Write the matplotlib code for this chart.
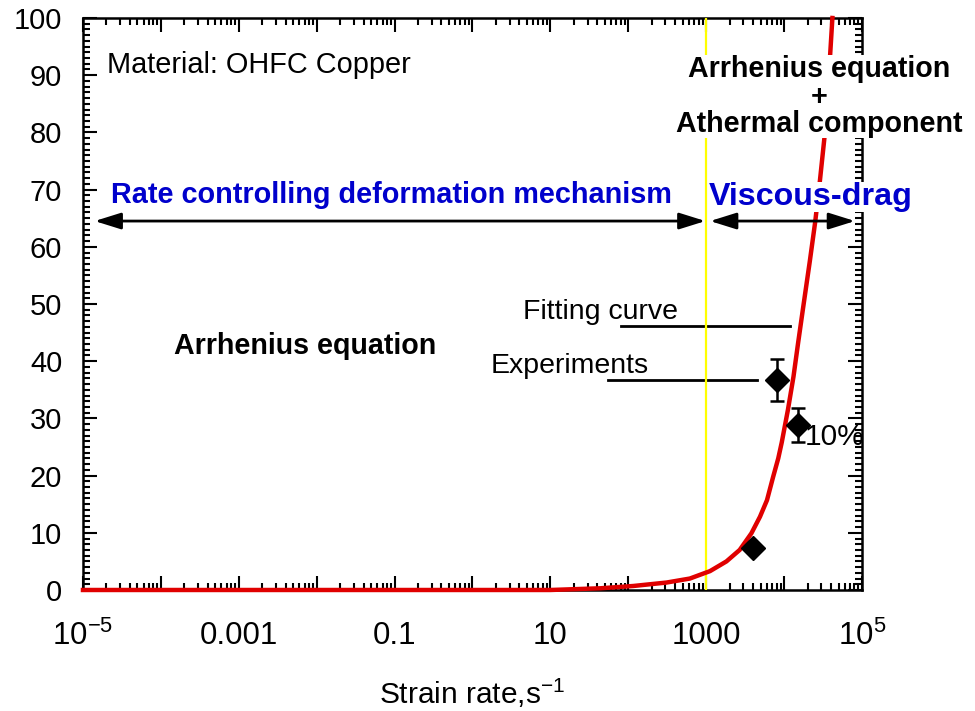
import matplotlib
matplotlib.use("Agg")
import matplotlib.pyplot as plt
from matplotlib.ticker import FixedLocator, FixedFormatter, LogLocator, MultipleLocator, NullFormatter

plt.rcParams["font.family"] = ["Liberation Sans", "DejaVu Sans"]
plt.rcParams["mathtext.fontset"] = "custom"
plt.rcParams["mathtext.rm"] = "Liberation Sans"
plt.rcParams["mathtext.it"] = "Liberation Sans:italic"

# Fitting curve (strain rate s^-1, stress)
fit_rate = [1e-5, 10, 44, 116, 309, 617, 1120, 1820, 2690, 3800, 4900, 6030,
            7240, 8410, 9330, 11200, 13200, 15100, 17400, 21400, 25100, 28800,
            33500, 37200, 41700]
fit_stress = [0, 0, 0.3, 0.7, 1.3, 2.0, 3.3, 5.0, 7.0, 9.9, 12.8, 15.7,
              19.8, 23.0, 25.8, 31.5, 37.3, 43.1, 49.0, 57.5, 64.4, 71.5,
              80.0, 89.0, 100]

# Experimental points
exp_rate = [3950, 8040, 14900]
exp_stress = [7.3, 36.7, 28.8]
exp_err = [0, 3.6, 3.0]

# Legend sample lines
legend_fit_x = [80, 12000]
legend_fit_y = [46.2, 46.2]
legend_exp_x = [55, 4450]
legend_exp_y = [36.7, 36.7]

x_major = [10.0 ** k for k in range(-5, 6)]
x_labels = ["$\\mathregular{10^{-5}}$", "", "0.001", "", "0.1", "", "10", "", "1000", "",
            "$\\mathregular{10^{5}}$"]
y_ticks = list(range(0, 101, 10))

transition_rate = 1000
arrow_y = 64.5

fig = plt.figure(figsize=(9.75, 7.11), dpi=100)
ax = fig.add_axes([0.0851, 0.1702, 0.799, 0.8045])

ax.set_xscale("log")
ax.set_xlim(1e-5, 1e5)
ax.set_ylim(0, 100)

# transition line
ax.axvline(transition_rate, color="#ffff00", lw=1.6, zorder=2.6)

ax.plot(fit_rate, fit_stress, color="#e00000", lw=3.2, zorder=3, clip_on=False)
ax.errorbar(exp_rate, exp_stress, yerr=exp_err, fmt="D", color="black", ms=12,
            elinewidth=1.8, capsize=5, capthick=1.8, zorder=4)

ax.plot(legend_fit_x, legend_fit_y, color="black", lw=2, zorder=2)
ax.plot(legend_exp_x, legend_exp_y, color="black", lw=2, zorder=2)

# double arrows
arrow_kw = dict(arrowstyle="<|-|>,head_length=0.8,head_width=0.25", color="black",
                lw=2, shrinkA=0, shrinkB=0, mutation_scale=20)
ax.annotate("", xy=(10 ** -4.85, arrow_y), xytext=(10 ** 2.99, arrow_y),
            arrowprops=arrow_kw, zorder=5)
ax.annotate("", xy=(10 ** 3.05, arrow_y), xytext=(10 ** 4.91, arrow_y),
            arrowprops=arrow_kw, zorder=5)

blue = "#0000cc"
white_box = dict(facecolor="white", edgecolor="none", pad=0)
ax.text(10 ** -4.69, 90.4, "Material: OHFC Copper", fontsize=20.8, va="baseline", ha="left")
ax.text(10 ** -4.64, 67.6, "Rate controlling deformation mechanism", fontsize=20.8,
        fontweight="bold", color=blue, va="baseline", ha="left")
ax.text(10 ** 3.03, 67.3, "Viscous-drag", fontsize=23.2, fontweight="bold", color=blue,
        va="baseline", ha="left", bbox=white_box, zorder=6)
ax.text(10 ** -3.83, 41.3, "Arrhenius equation", fontsize=20.6, fontweight="bold",
        va="baseline", ha="left")

# right-hand block
ax.text(10 ** 4.445, 86.2, "Arrhenius equation\n+\nAthermal component", fontsize=20.6,
        fontweight="bold", va="center", ha="center", multialignment="center",
        linespacing=0.98, bbox=white_box, zorder=6)

ax.text(10 ** 0.645, 47.3, "Fitting curve", fontsize=20.5, va="baseline", ha="left")
ax.text(10 ** 0.234, 37.9, "Experiments", fontsize=20.5, va="baseline", ha="left")
ax.text(10 ** 4.26, 25.3, "10%", fontsize=21.5, va="baseline", ha="left", zorder=6)

ax.xaxis.set_major_locator(FixedLocator(x_major))
ax.xaxis.set_major_formatter(FixedFormatter(x_labels))
ax.xaxis.set_minor_locator(LogLocator(base=10, subs=range(2, 10), numticks=20))
ax.xaxis.set_minor_formatter(NullFormatter())
ax.set_yticks(y_ticks)
ax.yaxis.set_minor_locator(MultipleLocator(1))

ax.tick_params(which="both", direction="in", top=True, right=True, width=1.5)
ax.tick_params(axis="y", labelsize=21, pad=15)
ax.tick_params(axis="x", labelsize=22.5, pad=22)
ax.tick_params(which="major", length=10)
ax.tick_params(which="minor", length=5)
for s in ax.spines.values():
    s.set_linewidth(1.8)

ax.set_xlabel("Strain rate,s$^{\\mathregular{-1}}$", fontsize=21.5, labelpad=18)

fig.savefig("out.png", dpi=100)
